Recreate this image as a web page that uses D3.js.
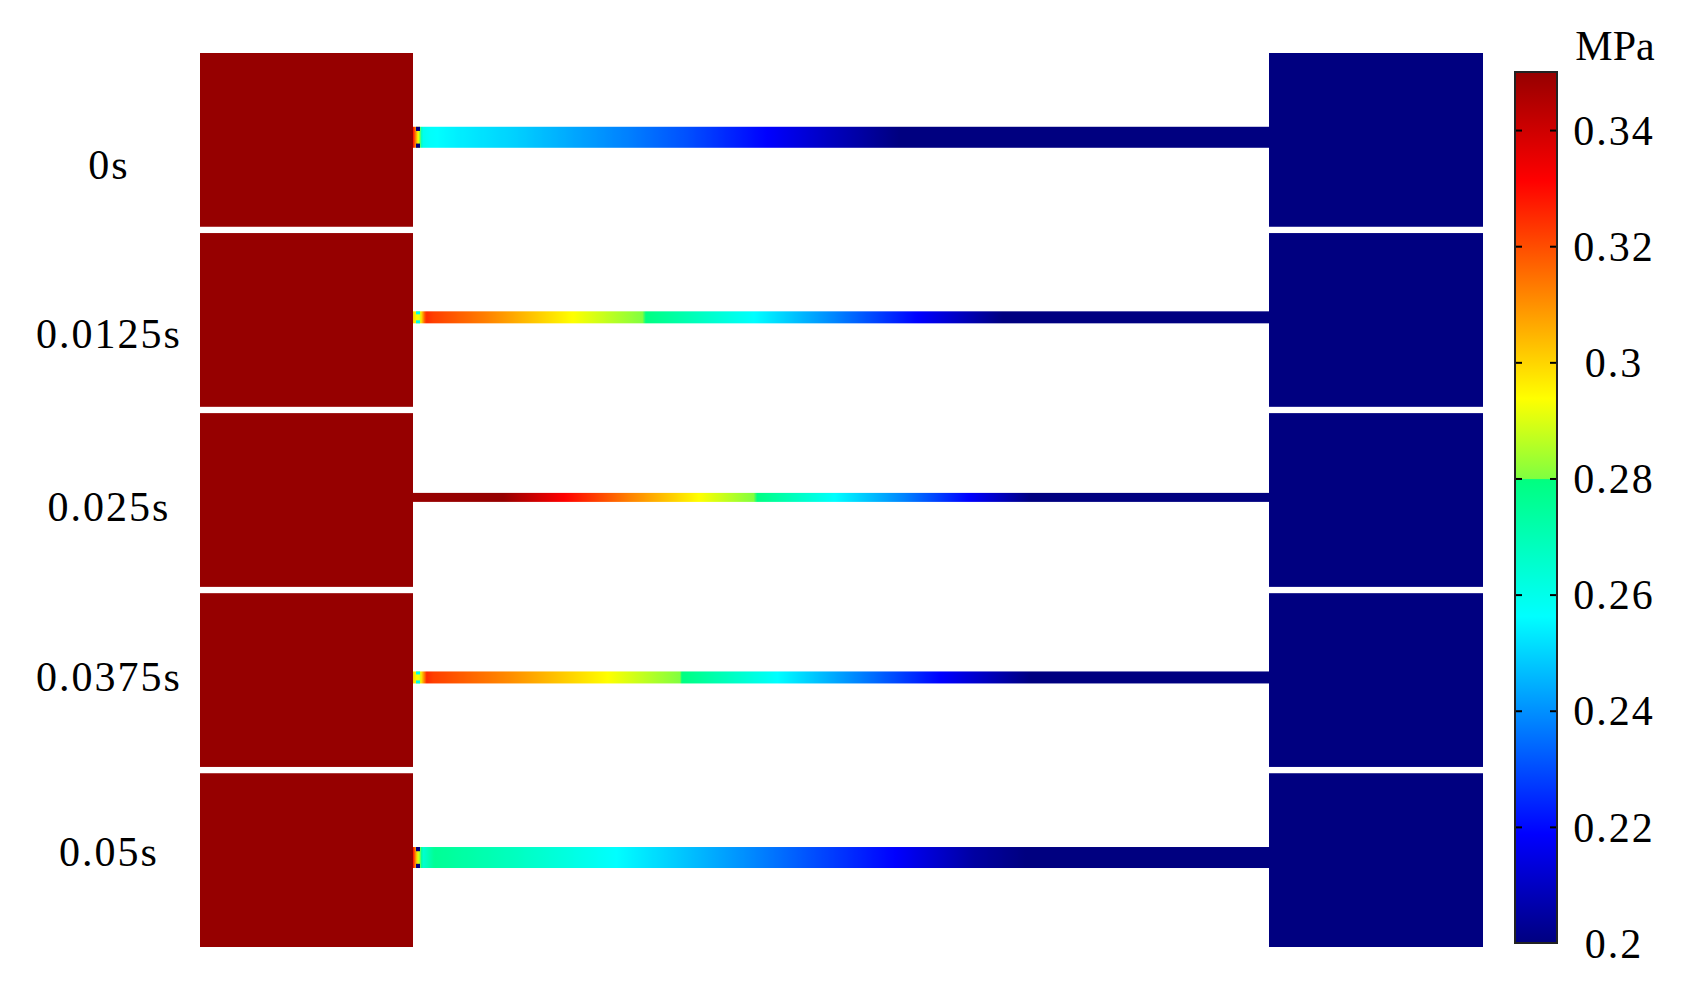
<!DOCTYPE html>
<html>
<head>
<meta charset="utf-8">
<script src="https://cdn.jsdelivr.net/npm/d3@7"></script>
<style>
  body { margin: 0; background: #fff; }
  svg text { font-family: "Liberation Serif", "Times New Roman", serif; fill: #000; }
</style>
</head>
<body>
<svg width="1707" height="987"></svg>
<script>
// time steps (rows)
const rowLabels = ["0s", "0.0125s", "0.025s", "0.0375s", "0.05s"];

// pressure along each pipe: position (fraction of pipe length) and value in MPa
const pos0 = [0, 0.005, 0.011, 0.02, 0.051, 0.118, 0.185, 0.252, 0.319, 0.413, 0.487, 0.568, 1];
const val0 = [0.33, 0.30, 0.26, 0.257, 0.254, 0.2495, 0.2435, 0.2375, 0.2306, 0.2188, 0.2094, 0.2, 0.2];

const pos1 = [0, 0.008, 0.015, 0.024, 0.085, 0.185, 0.27, 0.4, 0.494, 0.588, 0.689, 1];
const val1 = [0.30, 0.29, 0.325, 0.322, 0.3125, 0.294, 0.2799, 0.256, 0.238, 0.219, 0.2, 0.2];

const pos2 = [0, 0.105, 0.178, 0.252, 0.333, 0.4, 0.494, 0.574, 0.648, 0.722, 1];
const val2 = [0.35, 0.35, 0.331, 0.3125, 0.294, 0.2799, 0.256, 0.238, 0.219, 0.2, 0.2];

const pos3 = [0, 0.008, 0.016, 0.024, 0.118, 0.226, 0.313, 0.427, 0.521, 0.615, 0.722, 1];
const val3 = [0.30, 0.29, 0.325, 0.322, 0.31, 0.294, 0.2799, 0.256, 0.238, 0.219, 0.2, 0.2];

const pos4 = [0, 0.006, 0.012, 0.025, 0.119, 0.24, 0.386, 0.561, 0.655, 0.716, 1];
const val4 = [0.33, 0.29, 0.265, 0.276, 0.268, 0.256, 0.24, 0.219, 0.205, 0.2, 0.2];

// small inlet corner spots (value), null where none
const cornerVal = [0.2, 0.26, null, 0.26, 0.2];

// reservoir values: left tank (above scale max), right tank
const leftTankVal  = 0.35;
const rightTankVal = 0.2;

// colour bar
const colorDomain = [0.2, 0.21875, 0.25625, 0.2798, 0.2800, 0.29375, 0.33125, 0.35];
const colorRange  = ["#000080", "#0000ff", "#00ffff", "#00ff80", "#80ff40", "#ffff00", "#ff0000", "#960000"];
const tickValues  = [0.2, 0.22, 0.24, 0.26, 0.28, 0.3, 0.32, 0.34];
const unitLabel   = "MPa";

const profiles = [[pos0, val0], [pos1, val1], [pos2, val2], [pos3, val3], [pos4, val4]];

// layout
const tankL = [200, 413],
      tankR = [1269, 1483],
      pipeW = [21, 12, 9, 12, 21],
      labelDy = [126, 115, 108, 98, 93],
      bar = {x0: 1515, x1: 1557, y0: 72, y1: 943};

let svg   = d3.select("svg"),
    defs  = svg.append("defs"),
    color = d3.scaleLinear().domain(colorDomain).range(colorRange).clamp(true),
    yRow  = d3.scaleBand()
              .domain(rowLabels)
              .range([53, 947])
              .paddingInner(0.035),
    xPipe = d3.scaleLinear().domain([0, 1]).range([tankL[1], tankR[0]]),
    yBar  = d3.scaleLinear().domain([0.2, 0.35]).range([bar.y1, bar.y0]);

let rows = svg.selectAll(".row")
  .data(rowLabels)
  .enter().append("g")
    .attr("class", "row")
    .attr("transform", d => `translate(0,${yRow(d)})`);

// tanks
rows.append("rect")
  .attr("x", tankL[0])
  .attr("width", tankL[1] - tankL[0])
  .attr("height", yRow.bandwidth())
  .attr("fill", color(leftTankVal));

rows.append("rect")
  .attr("x", tankR[0])
  .attr("width", tankR[1] - tankR[0])
  .attr("height", yRow.bandwidth())
  .attr("fill", color(rightTankVal));

// pipe gradients
profiles.forEach((p, i) => {
  let v    = d3.scaleLinear().domain(p[0]).range(p[1]),
      grad = defs.append("linearGradient")
               .attr("id", "pipe" + i)
               .attr("x1", "0%").attr("x2", "100%")
               .attr("y1", "0%").attr("y2", "0%");
  grad.selectAll("stop")
    .data(d3.range(0, 1.0001, 0.002))
    .enter().append("stop")
      .attr("offset", t => (t * 100) + "%")
      .attr("stop-color", t => color(v(t)));
});

rows.append("rect")
  .attr("x", xPipe(0))
  .attr("width", xPipe(1) - xPipe(0))
  .attr("y", (d, i) => yRow.bandwidth() * 0.485 - pipeW[i] / 2)
  .attr("height", (d, i) => pipeW[i])
  .attr("fill", (d, i) => `url(#pipe${i})`);

// inlet corner spots
rows.each(function(d, i) {
  if (cornerVal[i] === null) return;
  let g  = d3.select(this),
      yc = yRow.bandwidth() * 0.485,
      s  = Math.max(3, pipeW[i] * 0.2);
  [yc - pipeW[i] / 2, yc + pipeW[i] / 2 - s].forEach(yy => {
    g.append("rect")
      .attr("x", xPipe(0) + 3)
      .attr("y", yy)
      .attr("width", 4)
      .attr("height", s)
      .attr("fill", color(cornerVal[i]));
  });
});

// row labels
rows.append("text")
  .attr("x", 109)
  .attr("y", (d, i) => labelDy[i])
  .attr("text-anchor", "middle")
  .style("font-size", "42px")
  .style("letter-spacing", "2px")
  .text(d => d);

// colour bar
let barGrad = defs.append("linearGradient")
  .attr("id", "barGrad")
  .attr("x1", "0%").attr("x2", "0%")
  .attr("y1", "100%").attr("y2", "0%");
barGrad.selectAll("stop")
  .data(colorDomain)
  .enter().append("stop")
    .attr("offset", d => ((d - 0.2) / 0.15 * 100) + "%")
    .attr("stop-color", d => color(d));

let gBar = svg.append("g");

gBar.append("rect")
  .attr("x", bar.x0)
  .attr("y", bar.y0)
  .attr("width", bar.x1 - bar.x0)
  .attr("height", bar.y1 - bar.y0)
  .attr("fill", "url(#barGrad)");

let inner = tickValues.filter(v => v > 0.2);

gBar.append("g")
  .attr("transform", `translate(${bar.x1},0)`)
  .call(d3.axisLeft(yBar).tickValues(inner).tickSize(7).tickFormat(""))
  .call(g => g.select(".domain").remove())
  .selectAll("line").attr("stroke", "#000").attr("stroke-width", 2);

gBar.append("g")
  .attr("transform", `translate(${bar.x0},0)`)
  .call(d3.axisRight(yBar).tickValues(inner).tickSize(7).tickFormat(""))
  .call(g => g.select(".domain").remove())
  .selectAll("line").attr("stroke", "#000").attr("stroke-width", 2);

gBar.append("rect")
  .attr("x", bar.x0)
  .attr("y", bar.y0)
  .attr("width", bar.x1 - bar.x0)
  .attr("height", bar.y1 - bar.y0)
  .attr("fill", "none")
  .attr("stroke", "#222")
  .attr("stroke-width", 2);

gBar.selectAll(".tlabel")
  .data(tickValues)
  .enter().append("text")
    .attr("class", "tlabel")
    .attr("x", 1614)
    .attr("y", d => yBar(d))
    .attr("dy", "0.35em")
    .attr("text-anchor", "middle")
    .style("font-size", "42px")
    .style("letter-spacing", "2px")
    .text(d => String(d));

gBar.append("text")
  .attr("x", 1615)
  .attr("y", 60)
  .attr("text-anchor", "middle")
  .style("font-size", "42px")
  .text(unitLabel);
</script>
</body>
</html>
